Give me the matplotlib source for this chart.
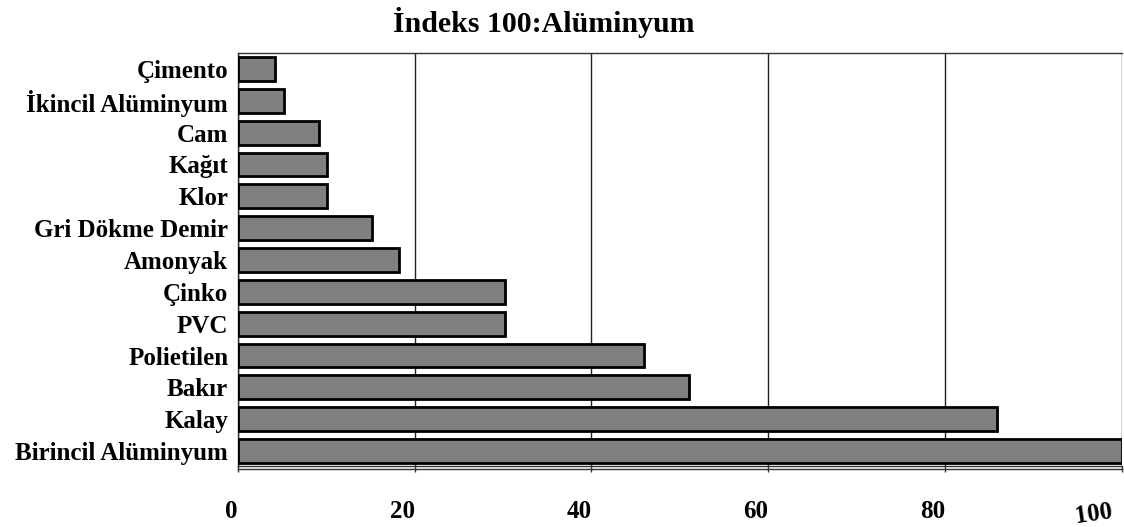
import matplotlib.pyplot as plt
import matplotlib.transforms as mtransforms
from matplotlib.lines import Line2D

# Data (index, primary aluminium = 100)
materials = ['Birincil Alüminyum', 'Kalay', 'Bakır', 'Polietilen', 'PVC', 'Çinko',
             'Amonyak', 'Gri Dökme Demir', 'Klor', 'Kağıt', 'Cam',
             'İkincil Alüminyum', 'Çimento']
index_values = [100, 85.9, 51.0, 46.0, 30.2, 30.2, 18.2, 15.2, 10.1, 10.1, 9.2, 5.2, 4.2]
x_ticks = [0, 20, 40, 60, 80, 100]

plt.rcParams['font.family'] = ['Liberation Serif', 'DejaVu Serif']
plt.rcParams['font.weight'] = 'bold'

fig = plt.figure(figsize=(11.24, 5.27), dpi=100)
ax = fig.add_axes([0.2117, 0.1157, 0.7863, 0.7837])

ypos = list(range(len(materials)))
ax.barh(ypos, index_values, height=0.75, color='#808080', edgecolor='black',
        linewidth=2, zorder=3)

ax.set_xlim(0, 100)
ax.set_ylim(-0.47, 12.5)
ax.set_yticks(ypos)
ax.set_yticklabels(materials, fontsize=18, fontweight='bold')
ax.tick_params(axis='y', length=0, pad=7)

ax.set_xticks(x_ticks)
ax.set_xticklabels([str(t) for t in x_ticks], fontsize=18, fontweight='bold')
ax.tick_params(axis='x', length=4.5, width=1, color='#333333', pad=20)
for lbl in ax.get_xticklabels():
    lbl.set_horizontalalignment('right')
last = ax.get_xticklabels()[-1]
last.set_rotation(8)
last.set_transform(last.get_transform() +
                   mtransforms.ScaledTranslation(-8 / 100, 0, fig.dpi_scale_trans))

ax.grid(axis='x', color='#222222', linewidth=1, zorder=0)
for s in ax.spines.values():
    s.set_color('#333333')
    s.set_linewidth(1)
ax.spines['right'].set_visible(False)
# second thin line just below the bottom axis line
ax.add_line(Line2D([0, 1], [-0.007, -0.007], transform=ax.transAxes,
                   color='#333333', linewidth=1, clip_on=False))

fig.suptitle('İndeks 100:Alüminyum', x=0.484, y=0.987, fontsize=21.5, fontweight='bold')

fig.savefig('out.png', dpi=100)
